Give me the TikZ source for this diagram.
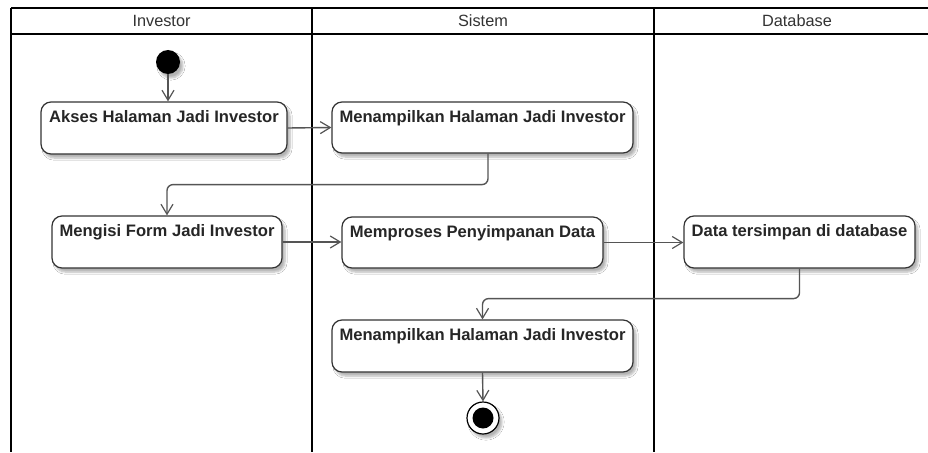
\documentclass[tikz,border=0pt]{standalone}
\usepackage{fontspec}
\setmainfont{Liberation Sans}
\usetikzlibrary{arrows.meta,calc,shadows.blur}
\definecolor{boxline}{HTML}{333333}
\definecolor{flowline}{HTML}{555555}
\definecolor{headtext}{HTML}{333333}
\tikzset{
  lane/.style={line width=2pt, black},
  headtxt/.style={font=\fontsize{16.3}{19}\selectfont, text=headtext, inner sep=0pt},
  softshadow/.style={blur shadow={shadow xshift=3pt, shadow yshift=-4pt, shadow opacity=30, shadow blur steps=6}},
  act/.style={draw=boxline, line width=1.2pt, fill=white, rounded corners=10pt,
    inner sep=0pt, softshadow},
  acttxt/.style={font=\bfseries\fontsize{16.6}{19}\selectfont, text=black!85, inner sep=0pt, anchor=base},
  flow/.style={draw=flowline, line width=1.4pt, rounded corners=6pt,
    -{Straight Barb[length=10pt,width=12pt,line width=1.2pt]}},
  startdot/.style={circle, fill=black, inner sep=0pt, minimum size=24pt, softshadow},
  endring/.style={circle, draw=black, line width=1.2pt, fill=white, inner sep=0pt, minimum size=32pt, softshadow},
  enddot/.style={circle, fill=black, inner sep=0pt, minimum size=21pt},
}
\begin{document}
\begin{tikzpicture}[x=1pt, y=-1pt]
\useasboundingbox (0,0) rectangle (928,452);
\fill[white] (0,0) rectangle (928,452);

% swimlane frame
\draw[lane] (11,8) -- (928,8);
\draw[lane] (11,34) -- (928,34);
\draw[lane] (11,8) -- (11,452);
\draw[lane] (312,8) -- (312,452);
\draw[lane] (654,8) -- (654,452);
\node[headtxt] (h1) at (161.5,21) {Investor};
\node[headtxt] (h2) at (483,21) {Sistem};
\node[headtxt] (h3) at (797,21) {Database};

% activities
\node[act, minimum width=246pt, minimum height=52pt] (a1) at (164,128) {};
\node[act, minimum width=301pt, minimum height=51pt] (a2) at (482.5,127.5) {};
\node[act, minimum width=230pt, minimum height=52pt] (a3) at (167,242) {};
\node[act, minimum width=261pt, minimum height=51pt] (a4) at (472.5,242.5) {};
\node[act, minimum width=231pt, minimum height=52pt] (a5) at (799.5,242) {};
\node[act, minimum width=301pt, minimum height=52pt] (a6) at (482.5,346) {};

\node[acttxt] (t1) at ($(a1.north)+(0,21)$) {Akses Halaman Jadi Investor};
\node[acttxt] (t2) at ($(a2.north)+(0,21)$) {Menampilkan Halaman Jadi Investor};
\node[acttxt] (t3) at ($(a3.north)+(0,21)$) {Mengisi Form Jadi Investor};
\node[acttxt] (t4) at ($(a4.north)+(0,21)$) {Memproses Penyimpanan Data};
\node[acttxt] (t5) at ($(a5.north)+(0,21)$) {Data tersimpan di database};
\node[acttxt] (t6) at ($(a6.north)+(0,21)$) {Menampilkan Halaman Jadi Investor};

% initial and final nodes
\node[startdot] (start) at (168,62) {};
\node[endring] (stop) at (483,418) {};
\node[enddot] (stopdot) at (stop.center) {};

% control flow
\draw[flow] (start.south) -- (start |- a1.north);
\draw[flow] (a1.east) -- (a2.west);
\draw[flow] ([xshift=5.5pt]a2.south) -- ++(0,31) -| (a3.north);
\draw[flow] (a3.east) -- (a4.west |- a3.east);
\draw[flow] (a4.east) -- (a5.west |- a4.east);
\draw[flow] (a5.south) -- ++(0,30) -| (a6.north);
\draw[flow] (a6.south) -- (stop.north);
\end{tikzpicture}
\end{document}
